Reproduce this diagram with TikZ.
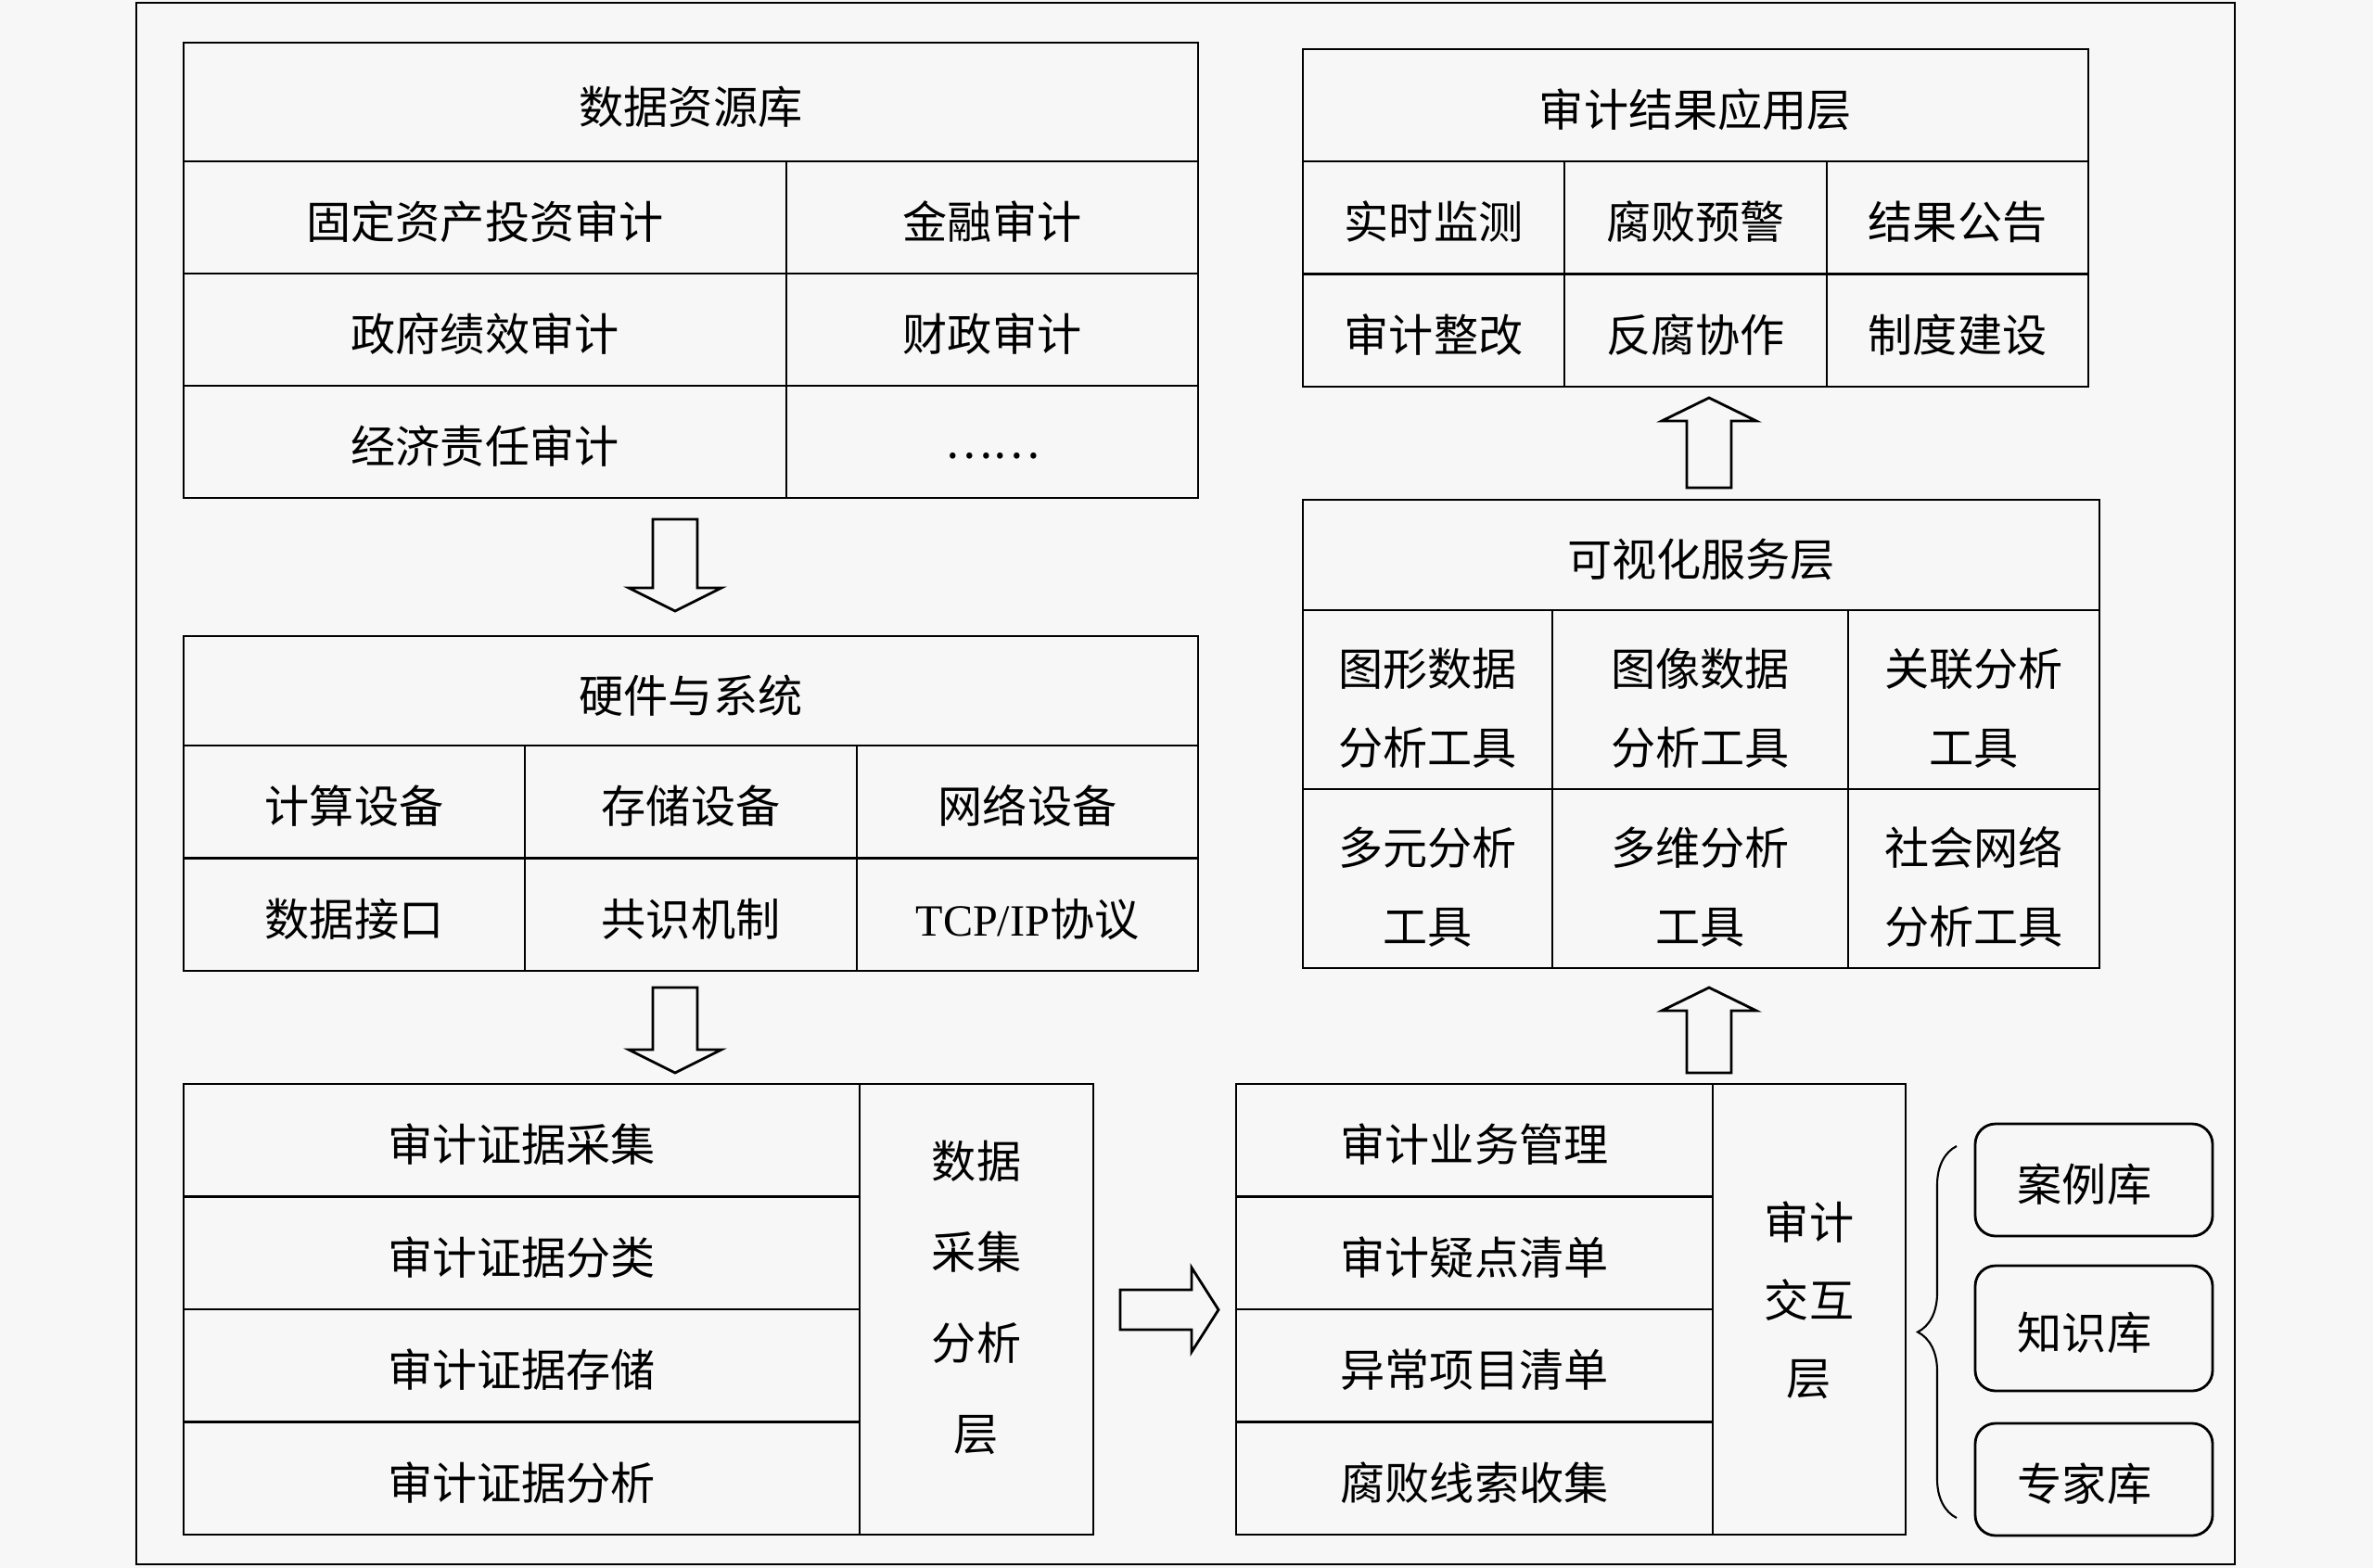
\documentclass[tikz,border=0pt]{standalone}
\usepackage{fontspec}
\setmainfont{Liberation Serif}
\newfontfamily\cjkfont{Noto Sans CJK SC}
\usetikzlibrary{decorations.pathreplacing}
\tikzset{
    cell/.style={draw, line width=0.8pt, inner sep=0pt, align=center,
        text height=13.2pt, text depth=0pt,
        font=\cjkfont\fontsize{13.7pt}{24pt}\selectfont},
    twoline/.style={text height=39.6pt},
    lib/.style={cell, rounded corners=0.22cm, minimum width=2.56cm},
    fatarr/.style={draw, line width=0.8pt, line join=miter}
}
% block arrows: position, tail, tip
\newcommand{\arrdown}[3]{\draw[fatarr] (#1-0.24,#2) -- (#1+0.24,#2) -- (#1+0.24,#3-0.25)
    -- (#1+0.5,#3-0.25) -- (#1,#3) -- (#1-0.5,#3-0.25) -- (#1-0.24,#3-0.25) -- cycle;}
\newcommand{\arrup}[3]{\draw[fatarr] (#1-0.24,#2) -- (#1+0.24,#2) -- (#1+0.24,#3+0.25)
    -- (#1+0.51,#3+0.25) -- (#1,#3) -- (#1-0.51,#3+0.25) -- (#1-0.24,#3+0.25) -- cycle;}
\newcommand{\arrright}[3]{\draw[fatarr] (#2,#1-0.215) -- (#2,#1+0.215) -- (#3-0.29,#1+0.215)
    -- (#3-0.29,#1+0.455) -- (#3,#1) -- (#3-0.29,#1-0.455) -- (#3-0.29,#1-0.215) -- cycle;}
\newcommand{\tcpip}{{\rmfamily TCP/IP}协议}
\newcommand{\etc}{\raisebox{1.4pt}{……}}

\begin{document}
\begin{tikzpicture}[x=1cm,y=-1cm]
    \fill[black!3] (0,0) rectangle (25.59,16.91);
    \useasboundingbox (0,0) rectangle (25.59,16.91);
    \draw[line width=0.8pt] (1.47,0.03) rectangle (24.10,16.87);
    % data resources
    \node[cell,minimum width=10.94cm,minimum height=1.28cm] (src) at (7.45,1.10) {数据资源库};
    \foreach \l/\r [count=\i] in {固定资产投资审计/金融审计,政府绩效审计/财政审计,经济责任审计/\etc}{
        \node[cell,minimum width=6.50cm,minimum height=1.21cm] (srcL\i) at (5.23,1.135+1.21*\i) {\l};
        \node[cell,minimum width=4.44cm,minimum height=1.21cm] (srcR\i) at (10.70,1.135+1.21*\i) {\r};
    }
    \arrdown{7.28}{5.60}{6.59}
    % hardware and system
    \node[cell,minimum width=10.94cm,minimum height=1.18cm] (hw) at (7.45,7.45) {硬件与系统};
    \foreach \a/\b/\c [count=\i] in {计算设备/存储设备/网络设备,数据接口/共识机制/\tcpip}{
        \node[cell,minimum width=3.68cm,minimum height=1.215cm] (hwA\i) at (3.82,7.4325+1.215*\i) {\a};
        \node[cell,minimum width=3.58cm,minimum height=1.215cm] (hwB\i) at (7.45,7.4325+1.215*\i) {\b};
        \node[cell,minimum width=3.68cm,minimum height=1.215cm] (hwC\i) at (11.08,7.4325+1.215*\i) {\c};
    }
    \arrdown{7.28}{10.65}{11.57}
    % data collection and analysis
    \foreach \t [count=\i] in {审计证据采集,审计证据分类,审计证据存储,审计证据分析}
        \node[cell,minimum width=7.29cm,minimum height=1.215cm] (col\i) at (5.625,11.0825+1.215*\i) {\t};
    \node[cell,minimum width=2.52cm,minimum height=4.86cm,text height=86.7pt,
        font=\cjkfont\fontsize{13.7pt}{27.9pt}\selectfont] (colS) at (10.53,14.12) {数据\\采集\\分析\\层};
    \arrright{14.125}{12.08}{13.14}
    % audit interaction
    \foreach \t [count=\i] in {审计业务管理,审计疑点清单,异常项目清单,腐败线索收集}
        \node[cell,minimum width=5.14cm,minimum height=1.215cm] (int\i) at (15.90,11.0825+1.215*\i) {\t};
    \node[cell,minimum width=2.08cm,minimum height=4.86cm,text height=52.8pt] (intS) at (19.51,14.12) {审计\\交互\\层};
    \coordinate (brT) at (21.10,12.36);
    \coordinate (brB) at (21.10,16.37);
    \draw[decorate,decoration={brace,amplitude=0.42cm},line width=0.6pt] (brB) -- (brT);
    \node[lib,minimum height=1.21cm] (lib1) at (22.58,12.725) {案例库\hspace*{0.2cm}};
    \node[lib,minimum height=1.35cm] (lib2) at (22.58,14.325) {知识库\hspace*{0.2cm}};
    \node[lib,minimum height=1.21cm] (lib3) at (22.58,15.955) {专家库\hspace*{0.2cm}};
    \arrup{18.43}{11.57}{10.65}
    % visualization services
    \node[cell,minimum width=8.59cm,minimum height=1.19cm] (vis) at (18.345,5.985) {可视化服务层};
    \foreach \a/\b/\c [count=\i] in {图形数据\\分析工具/图像数据\\分析工具/关联分析\\工具,
        多元分析\\工具/多维分析\\工具/社会网络\\分析工具}{
        \node[cell,twoline,minimum width=2.69cm,minimum height=1.93cm] (visA\i) at (15.395,5.615+1.93*\i) {\a};
        \node[cell,twoline,minimum width=3.19cm,minimum height=1.93cm] (visB\i) at (18.335,5.615+1.93*\i) {\b};
        \node[cell,twoline,minimum width=2.71cm,minimum height=1.93cm] (visC\i) at (21.285,5.615+1.93*\i) {\c};
    }
    \arrup{18.43}{5.26}{4.29}
    % application of results
    \node[cell,minimum width=8.47cm,minimum height=1.21cm] (app) at (18.285,1.135) {审计结果应用层};
    \foreach \a/\b/\c [count=\i] in {实时监测/腐败预警/结果公告,审计整改/反腐协作/制度建设}{
        \node[cell,minimum width=2.82cm,minimum height=1.215cm] (appA\i) at (15.46,1.1325+1.215*\i) {\a};
        \node[cell,minimum width=2.83cm,minimum height=1.215cm] (appB\i) at (18.285,1.1325+1.215*\i) {\b};
        \node[cell,minimum width=2.82cm,minimum height=1.215cm] (appC\i) at (21.11,1.1325+1.215*\i) {\c};
    }
\end{tikzpicture}
\end{document}
